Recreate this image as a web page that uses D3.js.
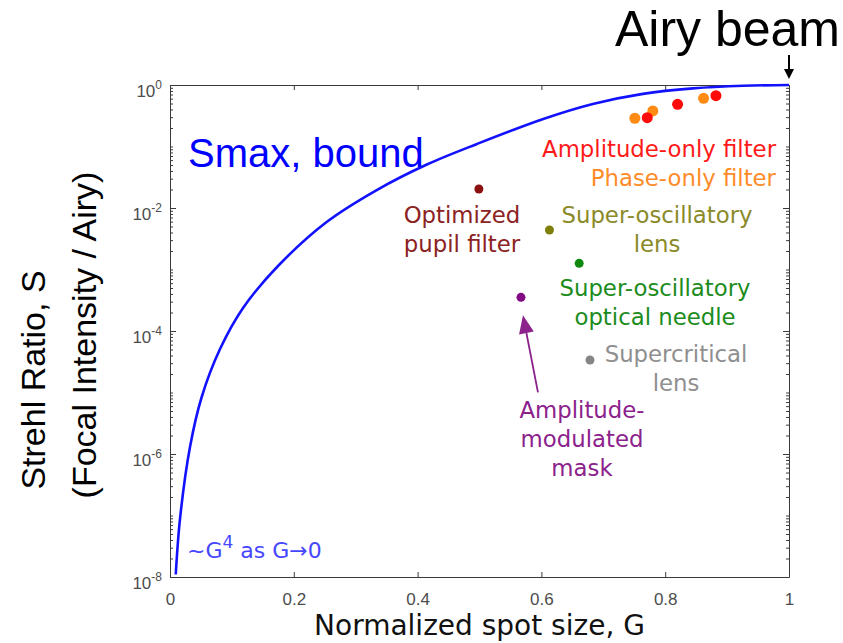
<!DOCTYPE html>
<html>
<head>
<meta charset="utf-8">
<script src="https://cdn.jsdelivr.net/npm/d3@7"></script>
<style>
  html, body { margin: 0; padding: 0; background: #fff; }
  svg { display: block; }
</style>
</head>
<body>
<svg id="chart" width="843" height="643"></svg>
<script>
// Upper bound on Strehl ratio versus normalized spot size
const boundG = [0.0093, 0.0162, 0.0323, 0.0512, 0.0808, 0.118, 0.1745, 0.253, 0.334, 0.415, 0.496, 0.603, 0.683, 0.764, 0.845, 0.926, 1.0];
const boundS = [1.10e-8, 8.9e-8, 1.30e-6, 8.45e-6, 5.09e-5, 2.37e-4, 1.14e-3, 5.92e-3, 0.0196, 0.0510, 0.110, 0.280, 0.491, 0.717, 0.880, 0.970, 1.0];

// Reported devices
const amplitudeG = [0.771, 0.820, 0.882];
const amplitudeS = [0.294, 0.485, 0.670];
const phaseG = [0.751, 0.780, 0.862];
const phaseS = [0.288, 0.378, 0.608];

const deviceNames = ["Optimized pupil filter", "Super-oscillatory lens", "Super-oscillatory optical needle", "Amplitude-modulated mask", "Supercritical lens"];
const deviceG = [0.499, 0.613, 0.661, 0.567, 0.6785];
const deviceS = [0.0204, 4.39e-3, 1.26e-3, 3.53e-4, 3.37e-5];

const xTicks = [0, 0.2, 0.4, 0.6, 0.8, 1];
const yTickExponents = [0, -2, -4, -6, -8];

const svg = d3.select("#chart");
const L = 170, R = 789, T = 85, B = 577;
const x = d3.scaleLinear().domain([0, 1]).range([L, R]);
const y = d3.scaleLog().domain([1e-8, 1]).range([B, T]);

const axisColor = "#3a3a3a";
const labelColor = "#4d4d4d";
const tickFont = "'Liberation Sans', Arial, Helvetica, sans-serif";
const annFont = "'DejaVu Sans', Verdana, sans-serif";

// minor ticks on the log axis: 2..9 per decade plus odd decades
const minorY = [];
for (let e = -8; e < 0; e++) {
  for (let m = 1; m <= 9; m++) {
    if (m === 1 && e % 2 === 0) continue;
    minorY.push(m * Math.pow(10, e));
  }
}
const majorY = yTickExponents.map(e => Math.pow(10, e));

function styleAxis(g) {
  g.selectAll("path.domain").attr("stroke", axisColor).attr("stroke-width", 1);
  g.selectAll(".tick line").attr("stroke", axisColor).attr("stroke-width", 1);
}

// bottom axis with labels
const gB = svg.append("g").attr("transform", `translate(0,${B})`)
  .call(d3.axisBottom(x).tickValues(xTicks).tickSizeInner(-5).tickSizeOuter(0).tickPadding(16)
    .tickFormat(d => d === 0 ? "0" : d === 1 ? "1" : d3.format(".1f")(d)));
styleAxis(gB);
gB.selectAll(".tick text").attr("fill", labelColor).attr("font-size", 17).attr("font-family", tickFont);

// top axis (ticks only)
const gT = svg.append("g").attr("transform", `translate(0,${T})`)
  .call(d3.axisTop(x).tickValues(xTicks).tickSizeInner(-5).tickSizeOuter(0).tickFormat(""));
styleAxis(gT);

// left axis: major + minor ticks
const gL = svg.append("g").attr("transform", `translate(${L},0)`)
  .call(d3.axisLeft(y).tickValues(majorY).tickSizeInner(-6).tickSizeOuter(0).tickFormat(""));
styleAxis(gL);
const gLm = svg.append("g").attr("transform", `translate(${L},0)`)
  .call(d3.axisLeft(y).tickValues(minorY).tickSizeInner(-3).tickSizeOuter(0).tickFormat(""));
styleAxis(gLm);
gLm.select("path.domain").remove();

// right axis: major + minor ticks
const gR = svg.append("g").attr("transform", `translate(${R},0)`)
  .call(d3.axisRight(y).tickValues(majorY).tickSizeInner(-6).tickSizeOuter(0).tickFormat(""));
styleAxis(gR);
const gRm = svg.append("g").attr("transform", `translate(${R},0)`)
  .call(d3.axisRight(y).tickValues(minorY).tickSizeInner(-3).tickSizeOuter(0).tickFormat(""));
styleAxis(gRm);
gRm.select("path.domain").remove();

// power-of-ten labels on the left
const yLab = svg.append("g");
yTickExponents.forEach(e => {
  const ty = y(Math.pow(10, e));
  const t = yLab.append("text")
    .attr("x", L - 8).attr("y", ty + 12)
    .attr("text-anchor", "end")
    .attr("font-family", tickFont).attr("fill", labelColor).attr("font-size", 17);
  t.append("tspan").text("10");
  t.append("tspan").attr("font-size", 12).attr("dy", -8).text(String(e));
});

// bound curve
const boundPts = boundG.map((g, i) => [g, boundS[i]]);
svg.append("path")
  .datum(boundPts)
  .attr("fill", "none")
  .attr("stroke", "#1212ff")
  .attr("stroke-width", 2.6)
  .attr("d", d3.line().x(d => x(d[0])).y(d => y(d[1])).curve(d3.curveCatmullRom.alpha(0.5)));

// device markers
const devColors = ["#8b1010", "#7f7f0a", "#0d8a0d", "#820a82", "#858585"];
svg.append("g").selectAll("circle")
  .data(deviceG.map((g, i) => ({ g, s: deviceS[i], c: devColors[i] })))
  .join("circle")
  .attr("cx", d => x(d.g)).attr("cy", d => y(d.s)).attr("r", 4.5).attr("fill", d => d.c);

svg.append("g").selectAll("circle")
  .data(phaseG.map((g, i) => ({ g, s: phaseS[i] })))
  .join("circle")
  .attr("cx", d => x(d.g)).attr("cy", d => y(d.s)).attr("r", 5.5).attr("fill", "#ff8a14");
svg.append("g").selectAll("circle")
  .data(amplitudeG.map((g, i) => ({ g, s: amplitudeS[i] })))
  .join("circle")
  .attr("cx", d => x(d.g)).attr("cy", d => y(d.s)).attr("r", 5.5).attr("fill", "#ff0a0a");

// annotation text helper
function label(lines, xPos, yPos, color, anchor) {
  const t = svg.append("text")
    .attr("font-family", annFont).attr("font-size", 22.8).attr("fill", color)
    .attr("text-anchor", anchor || "middle");
  lines.forEach((ln, i) => {
    t.append("tspan").attr("x", xPos).attr("y", yPos + i * 29).text(ln);
  });
}
label(["Amplitude-only filter"], 776, 157, "#ff1a1a", "end");
label(["Phase-only filter"], 776, 186, "#ff8c2a", "end");
label(["Optimized", "pupil filter"], 462, 223, "#8c2222");
label(["Super-oscillatory", "lens"], 657, 223, "#8a8a28");
label(["Super-oscillatory", "optical needle"], 655, 296, "#1c8c1c");
label(["Supercritical", "lens"], 676, 362, "#8f8f8f");
label(["Amplitude-", "modulated", "mask"], 582, 418, "#8c228c");

// arrow pointing at the amplitude-modulated mask point
const maskX = x(deviceG[3]), maskY = y(deviceS[3]);
const tip = [maskX + 2, maskY + 18];
const tail = [maskX + 17, maskY + 95];
const ang = Math.atan2(tip[1] - tail[1], tip[0] - tail[0]);
const headLen = 18, headW = 7.5;
const base = [tip[0] - headLen * Math.cos(ang), tip[1] - headLen * Math.sin(ang)];
svg.append("line")
  .attr("x1", tail[0]).attr("y1", tail[1]).attr("x2", base[0]).attr("y2", base[1])
  .attr("stroke", "#8c228c").attr("stroke-width", 1.8);
svg.append("path")
  .attr("d", `M${tip[0]},${tip[1]} L${base[0] + headW * Math.sin(ang)},${base[1] - headW * Math.cos(ang)} L${base[0] - headW * Math.sin(ang)},${base[1] + headW * Math.cos(ang)} Z`)
  .attr("fill", "#8c228c");

// asymptote note
const asy = svg.append("text")
  .attr("x", 187).attr("y", 558)
  .attr("font-family", annFont).attr("font-size", 22).attr("fill", "#4646ff");
asy.append("tspan").text("~G");
asy.append("tspan").attr("font-size", 17).attr("dy", -10).text("4");
asy.append("tspan").attr("dy", 10).text(" as G\u21920");

// curve title
svg.append("text")
  .attr("x", 188).attr("y", 167)
  .attr("font-family", tickFont).attr("font-size", 40).attr("fill", "#0000ff")
  .text("Smax, bound");

// Airy beam marker
svg.append("text")
  .attr("x", 840).attr("y", 46)
  .attr("text-anchor", "end")
  .attr("font-family", tickFont).attr("font-size", 50).attr("fill", "#000")
  .text("Airy beam");
svg.append("line")
  .attr("x1", x(1)).attr("y1", 55).attr("x2", x(1)).attr("y2", 70)
  .attr("stroke", "#000").attr("stroke-width", 2);
svg.append("path")
  .attr("d", `M${x(1) - 5},69 L${x(1) + 5},69 L${x(1)},79 Z`)
  .attr("fill", "#000");

// axis titles
svg.append("text")
  .attr("x", (L + R) / 2).attr("y", 635)
  .attr("text-anchor", "middle")
  .attr("font-family", annFont).attr("font-size", 28).attr("fill", "#111")
  .text("Normalized spot size, G");

svg.append("text")
  .attr("transform", "translate(45,380) rotate(-90)")
  .attr("text-anchor", "middle")
  .attr("font-family", tickFont).attr("font-size", 34).attr("fill", "#000")
  .text("Strehl Ratio, S");
svg.append("text")
  .attr("transform", "translate(96,335) rotate(-90)")
  .attr("text-anchor", "middle")
  .attr("font-family", tickFont).attr("font-size", 34).attr("fill", "#000")
  .text("(Focal Intensity / Airy)");
</script>
</body>
</html>
